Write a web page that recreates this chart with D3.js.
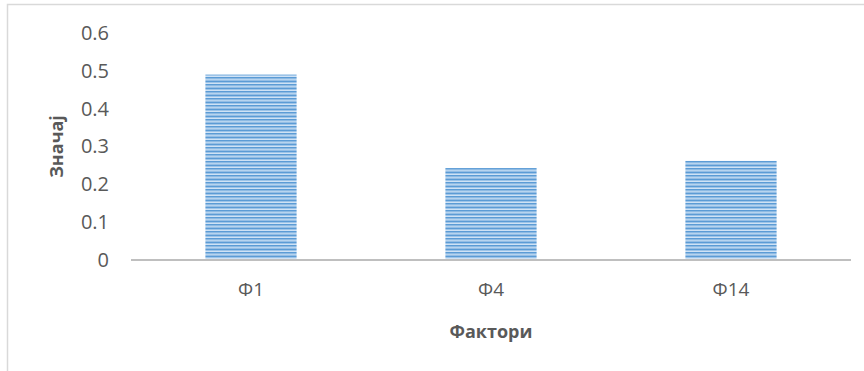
<!DOCTYPE html>
<html>
<head>
<meta charset="utf-8">
<script src="https://cdn.jsdelivr.net/npm/d3@7"></script>
<style>
  html, body { margin: 0; padding: 0; background: #fff; }
  svg { display: block; font-family: "Open Sans", "Segoe UI", sans-serif; }
</style>
</head>
<body>
<svg id="chart" width="864" height="371"></svg>
<script>
// Factor importance data
const categories = ["Φ1", "Φ4", "Φ14"];
const values = [0.49, 0.243, 0.262];
const yTicks = [0, 0.1, 0.2, 0.3, 0.4, 0.5, 0.6];
const xTitle = "Фактори";
const yTitle = "Значај";

const svg = d3.select("#chart");

// Outer chart frame (only top and left edges fall inside the view)
svg.append("rect")
  .attr("x", 7.5).attr("y", 4.5)
  .attr("width", 900).attr("height", 400)
  .attr("fill", "#fff")
  .attr("stroke", "#d9d9d9").attr("stroke-width", 1.5);

const plot = { left: 131, right: 851, top: 33, bottom: 260 };

const x = d3.scaleBand()
  .domain(categories)
  .range([plot.left, plot.right])
  .paddingInner(0.62).paddingOuter(0.31);

const y = d3.scaleLinear()
  .domain([0, 0.6])
  .range([plot.bottom, plot.top]);

// Narrow horizontal stripe fill
const defs = svg.append("defs");
const pat = defs.append("pattern")
  .attr("id", "stripes")
  .attr("patternUnits", "userSpaceOnUse")
  .attr("width", 4).attr("height", 7);
pat.append("rect").attr("width", 4).attr("height", 7).attr("fill", "#cfe2f5");
[0, 3.5].forEach(o => {
  pat.append("rect").attr("y", o).attr("width", 4).attr("height", 1.6).attr("fill", "#5b9bd5");
  pat.append("rect").attr("y", o + 1.6).attr("width", 4).attr("height", 0.8).attr("fill", "#94bfe6");
});

// Bars
svg.append("g")
  .selectAll("rect")
  .data(categories.map((c, i) => ({ c, v: values[i] })))
  .join("rect")
  .attr("x", d => x(d.c))
  .attr("y", d => y(d.v))
  .attr("width", x.bandwidth())
  .attr("height", d => y(0) - y(d.v))
  .attr("fill", "url(#stripes)");

// Y axis labels (no line, no ticks)
const yAxis = d3.axisLeft(y).tickValues(yTicks).tickSize(0).tickPadding(0)
  .tickFormat(d => d === 0 ? "0" : d3.format(".1f")(d));
const gy = svg.append("g").attr("transform", `translate(${plot.left - 22},0)`).call(yAxis);
gy.select(".domain").remove();
gy.selectAll("text")
  .attr("fill", "#595959")
  .style("font-size", "20px")
  .style("font-family", "\"Open Sans\", sans-serif");

// X axis baseline and category labels
const xAxis = d3.axisBottom(x).tickSize(0).tickPadding(23);
const gx = svg.append("g").attr("transform", `translate(0,${plot.bottom})`).call(xAxis);
gx.select(".domain")
  .attr("stroke", "#bfbfbf").attr("stroke-width", 2)
  .attr("d", `M${plot.left},0H${plot.right}`);
gx.selectAll("text")
  .attr("fill", "#595959")
  .style("font-size", "19px")
  .style("font-family", "\"Open Sans\", sans-serif");

// Axis titles
svg.append("text")
  .attr("x", (plot.left + plot.right) / 2)
  .attr("y", 338)
  .attr("text-anchor", "middle")
  .attr("fill", "#595959")
  .style("font-size", "18px")
  .style("font-weight", "bold")
  .text(xTitle);

svg.append("text")
  .attr("transform", `translate(63,${(plot.top + plot.bottom) / 2}) rotate(-90)`)
  .attr("text-anchor", "middle")
  .attr("fill", "#595959")
  .style("font-size", "18px")
  .style("font-weight", "bold")
  .text(yTitle);
</script>
</body>
</html>
